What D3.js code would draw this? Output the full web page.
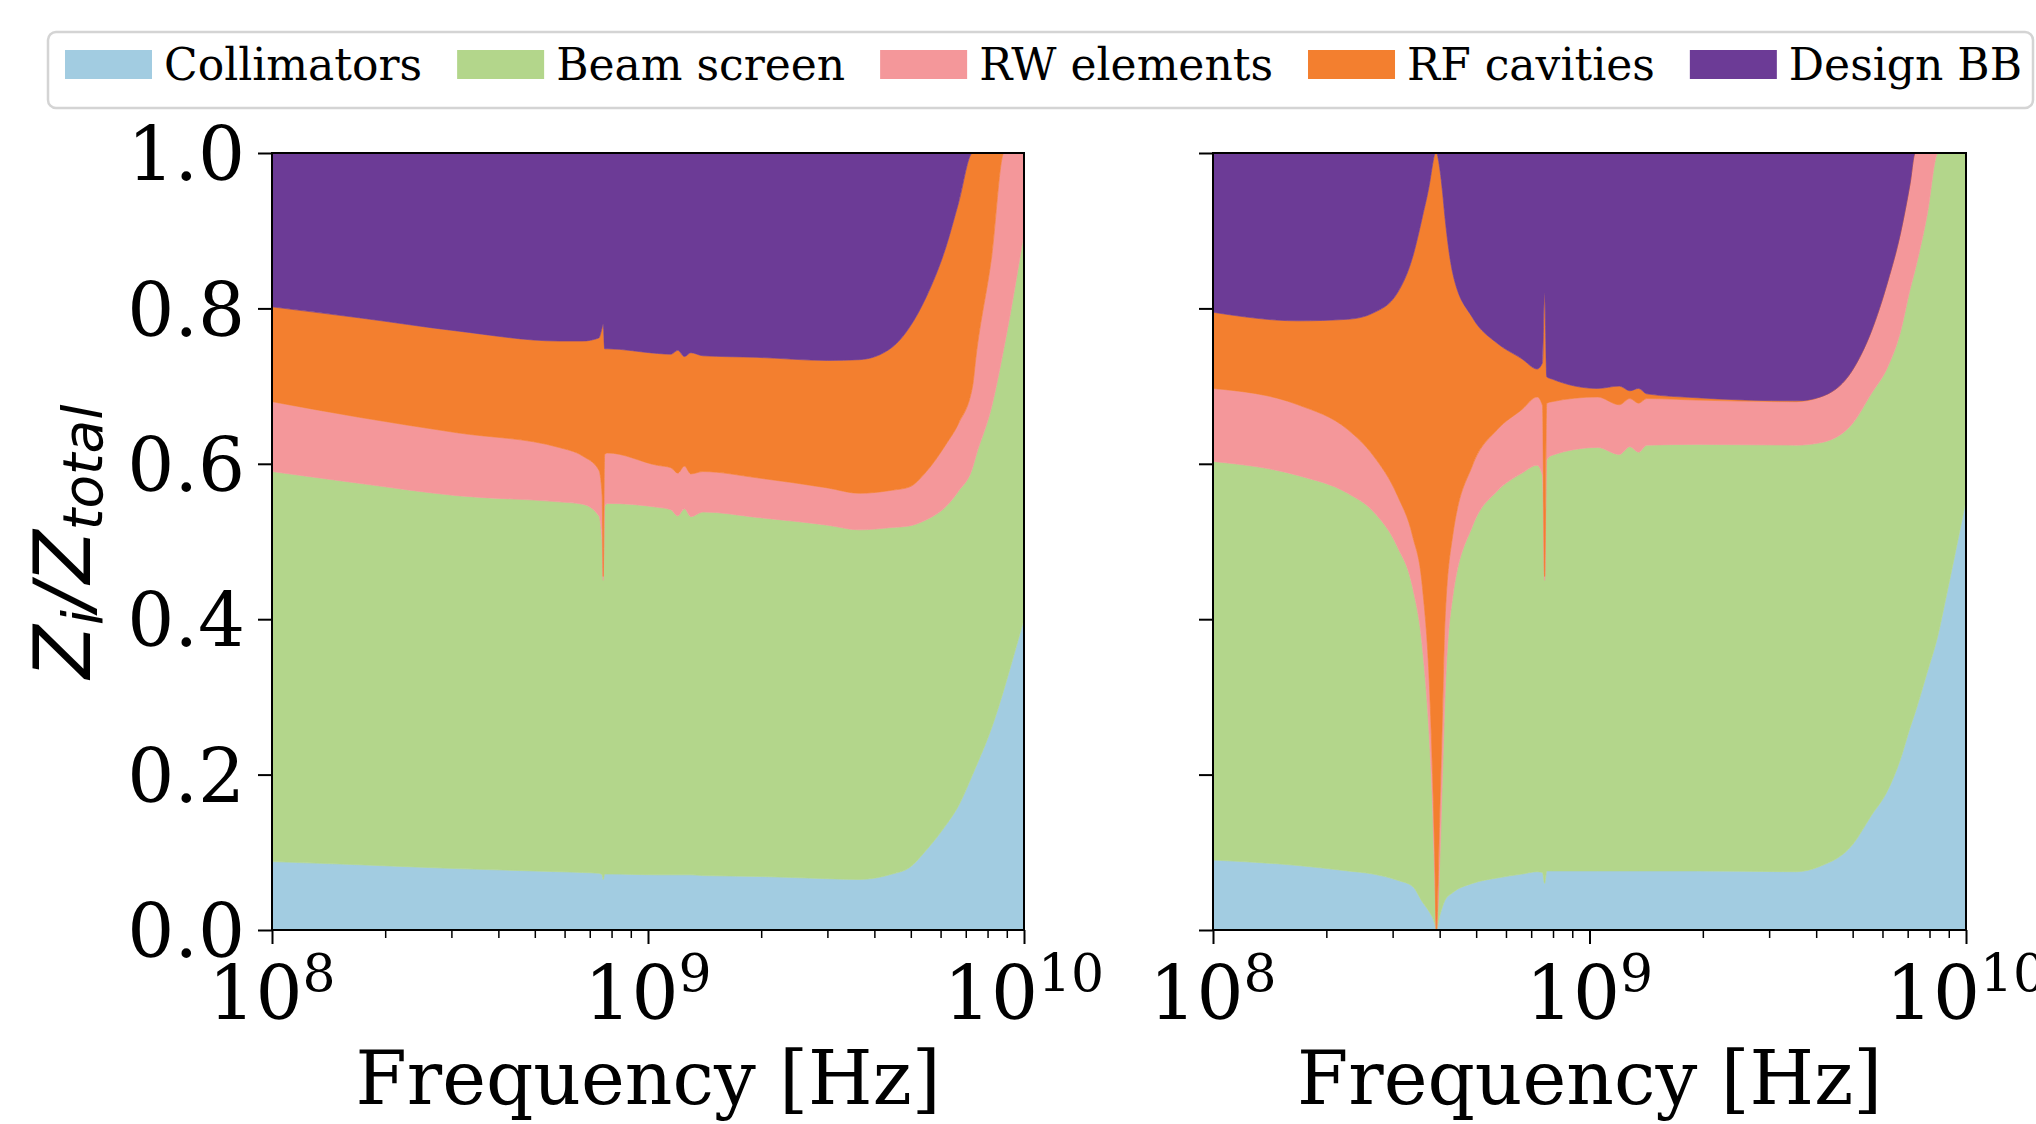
<!DOCTYPE html>
<html>
<head>
<meta charset="utf-8">
<script src="https://cdn.jsdelivr.net/npm/d3@7"></script>
<style>
  body { margin: 0; background: #fff; }
  svg text { font-family: "DejaVu Serif", serif; fill: #000; }
</style>
</head>
<body>
<svg id="chart" width="2036" height="1124"></svg>
<script>
// Components, in stacking order (bottom to top)
const components = ["Collimators", "Beam screen", "RW elements", "RF cavities", "Design BB"];
const colors = ["#a2cce1", "#b3d68b", "#f4979a", "#f37f2f", "#6c3b96"];

// Left panel: frequency [Hz] and fraction of total impedance per component
const freqA = [1.0e8, 1.7e8, 3.1e8, 5.8e8, 6.7e8, 7.4e8, 7.55e8, 7.6e8, 7.67e8, 7.8e8,
  1.06e9, 1.15e9, 1.2e9, 1.25e9, 1.3e9, 1.4e9, 1.95e9, 3.0e9, 3.65e9, 4.46e9,
  4.95e9, 5.5e9, 6.2e9, 6.7e9, 7.3e9, 7.45e9, 8.2e9, 8.85e9, 9.1e9, 1.0e10];
const collA = [.088, .084, .079, .075, .074, .073, .071, .065, .072, .072,
  .071, .071, .071, .071, .071, .070, .069, .066, .065, .072,
  .080, .103, .135, .160, .200, .210, .260, .310, .330, .400];
const screenA = [.502, .491, .480, .476, .474, .460, .429, .385, .473, .477,
  .473, .470, .462, .471, .461, .468, .462, .455, .450, .446,
  .440, .425, .410, .405, .395, .400, .413, .440, .451, .497];
const rwA = [.090, .085, .081, .070, .062, .059, .060, .005, .067, .065,
  .054, .054, .055, .055, .055, .052, .051, .048, .047, .048,
  .050, .062, .080, .087, .105, .127, .193, .250, .219, .103];
const rfA = [.122, .128, .131, .137, .148, .170, .215, .325, .136, .134,
  .144, .146, .158, .141, .156, .149, .155, .164, .172, .184,
  .205, .225, .254, .284, .300, .263, .134, 0, 0, 0];
const bbA = [.198, .212, .229, .242, .242, .238, .225, .220, .252, .252,
  .258, .259, .254, .262, .257, .261, .263, .267, .266, .250,
  .225, .185, .121, .064, 0, 0, 0, 0, 0, 0];

// Right panel
const freqB = [1.0e8, 1.68e8, 2.28e8, 2.66e8, 3.09e8, 3.39e8, 3.6e8, 3.77e8, 3.83e8, 3.88e8,
  3.92e8, 4.01e8, 4.07e8, 4.13e8, 4.33e8, 4.89e8, 5.69e8, 6.62e8, 7.26e8, 7.5e8,
  7.6e8, 7.7e8, 7.96e8, 1.05e9, 1.2e9, 1.28e9, 1.35e9, 1.42e9, 1.93e9, 3.55e9,
  4.1e9, 5.0e9, 5.6e9, 6.2e9, 6.7e9, 7.1e9, 7.33e9, 7.87e9, 8.43e9, 8.85e9, 1.0e10];
const collB = [.090, .083, .076, .072, .064, .056, .036, .022, .016, .008,
  0, .020, .030, .038, .048, .060, .067, .072, .075, .074,
  .060, .076, .076, .076, .076, .076, .076, .076, .076, .075,
  .082, .110, .147, .180, .220, .260, .280, .330, .380, .428, .553];
const screenB = [.513, .502, .486, .467, .429, .385, .327, .210, .144, .061,
  0, .080, .170, .259, .380, .460, .498, .516, .523, .511,
  .390, .529, .535, .545, .536, .546, .539, .548, .549, .549,
  .545, .542, .543, .545, .550, .564, .570, .588, .620, .572, .447];
const rwB = [.094, .091, .082, .072, .066, .066, .078, .065, .040, .031,
  0, .067, .080, .098, .079, .078, .079, .082, .088, .090,
  .005, .073, .069, .065, .064, .062, .063, .060, .057, .056,
  .059, .069, .080, .110, .127, .136, .150, .082, 0, 0, 0];
const rfB = [.098, .108, .142, .183, .261, .359, .477, .667, .785, .898,
  1, .810, .670, .523, .339, .190, .111, .065, .036, .055,
  .365, .034, .029, .011, .024, .010, .019, .006, .003, .001,
  0, 0, 0, 0, 0, 0, 0, 0, 0, 0, 0];
const bbB = [.205, .216, .214, .206, .180, .134, .082, .036, .015, .002,
  0, .023, .050, .082, .154, .212, .245, .265, .278, .270,
  .180, .288, .291, .303, .300, .306, .303, .310, .315, .319,
  .314, .279, .230, .165, .103, .040, 0, 0, 0, 0, 0];

// Ticks
const yTicks = [0, 0.2, 0.4, 0.6, 0.8, 1.0];
const xMajor = [1e8, 1e9, 1e10];
const xMinor = [2e8, 3e8, 4e8, 5e8, 6e8, 7e8, 8e8, 9e8, 2e9, 3e9, 4e9, 5e9, 6e9, 7e9, 8e9, 9e9];

const svg = d3.select("#chart");
const plotTop = 153, plotBottom = 930;
const y = d3.scaleLinear().domain([0, 1]).range([plotBottom, plotTop]);
const keys = components.map((c, i) => "k" + i);

const panels = [
  { left: 272, right: 1024, freq: freqA, series: [collA, screenA, rwA, rfA, bbA], yLabels: true },
  { left: 1213, right: 1966, freq: freqB, series: [collB, screenB, rwB, rfB, bbB], yLabels: false }
];

panels.forEach(function (p, pi) {
  const x = d3.scaleLog().domain([1e8, 1e10]).range([p.left, p.right]);

  // build rows for the stack
  const rows = p.freq.map(function (f, i) {
    const r = { f: f };
    keys.forEach((k, j) => r[k] = p.series[j][i]);
    return r;
  });
  const stacked = d3.stack().keys(keys)(rows);

  const area = d3.area()
    .x(d => x(d.data.f))
    .y0(d => y(d[0]))
    .y1(d => y(d[1]))
    .curve(d3.curveMonotoneX);

  svg.append("clipPath").attr("id", "clip" + pi)
    .append("rect")
    .attr("x", p.left).attr("y", plotTop)
    .attr("width", p.right - p.left).attr("height", plotBottom - plotTop);

  svg.append("g")
    .attr("clip-path", "url(#clip" + pi + ")")
    .selectAll("path")
    .data(stacked)
    .join("path")
    .attr("fill", (d, i) => colors[i])
    .attr("stroke", (d, i) => colors[i])
    .attr("stroke-width", 0.6)
    .attr("d", area);

  // y axis
  const gy = svg.append("g")
    .attr("transform", "translate(" + p.left + ",0)")
    .call(d3.axisLeft(y).tickValues(yTicks).tickSize(14).tickPadding(13)
      .tickFormat(p.yLabels ? d3.format(".1f") : ""));
  gy.select(".domain").remove();
  gy.selectAll("line").attr("stroke", "#000").attr("stroke-width", 2);
  gy.selectAll("text")
    .attr("font-size", 74)
    .attr("font-family", "DejaVu Serif")
    .attr("fill", "#000")
    .attr("dy", "0.36em");

  // x axis, major and minor ticks
  const gx = svg.append("g")
    .attr("transform", "translate(0," + plotBottom + ")")
    .call(d3.axisBottom(x).tickValues(xMajor).tickSize(14).tickFormat(""));
  gx.select(".domain").remove();
  gx.selectAll("line").attr("stroke", "#000").attr("stroke-width", 2);

  const gxm = svg.append("g")
    .attr("transform", "translate(0," + plotBottom + ")")
    .call(d3.axisBottom(x).tickValues(xMinor).tickSize(8).tickFormat(""));
  gxm.select(".domain").remove();
  gxm.selectAll("line").attr("stroke", "#000").attr("stroke-width", 1.5);

  // tick labels 10^n
  svg.append("g")
    .selectAll("text")
    .data(xMajor)
    .join("text")
    .attr("x", d => x(d))
    .attr("y", 1019)
    .attr("text-anchor", "middle")
    .attr("font-size", 74)
    .each(function (d) {
      const t = d3.select(this);
      t.append("tspan").text("10");
      t.append("tspan").attr("dy", -28).attr("font-size", 52).text(Math.round(Math.log10(d)));
    });

  // spines
  svg.append("rect")
    .attr("x", p.left).attr("y", plotTop)
    .attr("width", p.right - p.left).attr("height", plotBottom - plotTop)
    .attr("fill", "none").attr("stroke", "#000").attr("stroke-width", 2);

  // x label
  svg.append("text")
    .attr("x", (p.left + p.right) / 2)
    .attr("y", 1104)
    .attr("text-anchor", "middle")
    .attr("font-size", 74)
    .text("Frequency [Hz]");
});

// y label  Z_i / Z_total
const ylab = svg.append("text")
  .attr("transform", "translate(90," + (plotTop + plotBottom) / 2 + ") rotate(-90)")
  .attr("text-anchor", "middle")
  .attr("font-size", 78)
  .style("font-family", "'DejaVu Sans', sans-serif")
  .style("font-style", "italic");
ylab.append("tspan").text("Z");
ylab.append("tspan").attr("dy", 12).attr("font-size", 55).text("i");
ylab.append("tspan").attr("dy", -12).text("/Z");
ylab.append("tspan").attr("dy", 12).attr("font-size", 55).text("total");

// legend
const legend = svg.append("g");
const box = legend.append("rect");
let lx = 65;
components.forEach(function (name, i) {
  legend.append("rect")
    .attr("x", lx).attr("y", 50)
    .attr("width", 87).attr("height", 29)
    .attr("fill", colors[i]);
  const t = legend.append("text")
    .attr("x", lx + 99).attr("y", 80)
    .attr("font-size", 44)
    .text(name);
  lx = lx + 99 + t.node().getComputedTextLength() + 35;
});
box.attr("x", 48).attr("y", 32)
  .attr("width", Math.min(lx - 35 + 14, 2033) - 48).attr("height", 76)
  .attr("rx", 8)
  .attr("fill", "#fff").attr("stroke", "#d4d4d4").attr("stroke-width", 2.5);
</script>
</body>
</html>
